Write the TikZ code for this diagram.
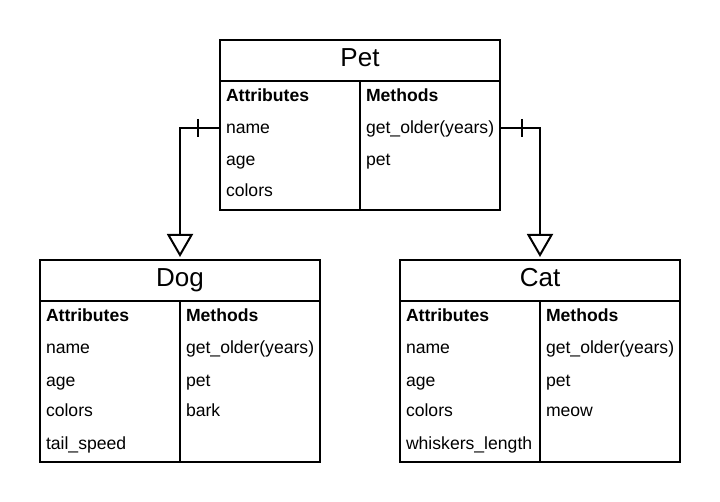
\documentclass[tikz,border=0pt]{standalone}
\usepackage{fontspec}
\setmainfont{Liberation Sans}
\usetikzlibrary{arrows.meta}
\usetikzlibrary{calc}

\begin{document}
\begin{tikzpicture}[x=1pt,y=-1pt,line width=2pt,
klassz/.style={rectangle,draw=black,minimum width=280pt,inner sep=0pt},
cim/.style={font=\fontsize{26}{30}\selectfont,inner sep=0pt,text height=20pt,text depth=5pt},
sor/.style={anchor=west,font=\fontsize{17.6}{20}\selectfont,inner sep=0pt,text height=15pt,text depth=3pt},
fej/.style={sor,font=\fontsize{17.6}{20}\selectfont\bfseries},
orokles/.style={-{Triangle[open,fill=white,length=23pt,width=26pt,line width=2pt]}}
]

\useasboundingbox (0,0) rectangle (720,502);

% Pet
\node[klassz,minimum height=170pt](pet) at (360,125){};
\node[cim](pet-cim) at (360,59){Pet};
\draw (220,81)--(500,81);
\draw (360,81)--(360,210);
\node[fej](pet-attr) at (225,96){Attributes};
\node[sor](pet-name) at (225,128){name};
\node[sor](pet-age) at (225,160){age};
\node[sor](pet-colors) at (225,191){colors};
\node[fej](pet-meth) at (365,96){Methods};
\node[sor](pet-older) at (365,128){get\_older(years)};
\node[sor](pet-pet) at (365,160){pet};

% Dog
\node[klassz,minimum height=202pt](dog) at (180,361){};
\node[cim](dog-cim) at (180,279){Dog};
\draw (40,301)--(320,301);
\draw (180,301)--(180,462);
\node[fej](dog-attr) at (45,316){Attributes};
\node[sor](dog-name) at (45,348){name};
\node[sor](dog-age) at (45,380){age};
\node[sor](dog-colors) at (45,411){colors};
\node[sor](dog-tail) at (45,443){tail\_speed};
\node[fej](dog-meth) at (185,316){Methods};
\node[sor](dog-older) at (185,348){get\_older(years)};
\node[sor](dog-pet) at (185,380){pet};
\node[sor](dog-bark) at (185,411){bark};

% Cat
\node[klassz,minimum height=202pt](cat) at (540,361){};
\node[cim](cat-cim) at (540,279){Cat};
\draw (400,301)--(680,301);
\draw (540,301)--(540,462);
\node[fej](cat-attr) at (405,316){Attributes};
\node[sor](cat-name) at (405,348){name};
\node[sor](cat-age) at (405,380){age};
\node[sor](cat-colors) at (405,411){colors};
\node[sor](cat-whisk) at (405,443){whiskers\_length};
\node[fej](cat-meth) at (545,316){Methods};
\node[sor](cat-older) at (545,348){get\_older(years)};
\node[sor](cat-pet) at (545,380){pet};
\node[sor](cat-meow) at (545,411){meow};

% connectors
\begin{scope}[line join=miter]
\draw[orokles] (pet.west |- pet-name) -| ($(dog.north)+(0,-2)$);
\draw[orokles] (pet.east |- pet-older) -| ($(cat.north)+(0,-2)$);
\draw ($(pet.west |- pet-name)+(-21,-9)$)--++(0,18);
\draw ($(pet.east |- pet-older)+(21,-9)$)--++(0,18);
\end{scope}
\end{tikzpicture}
\end{document}
